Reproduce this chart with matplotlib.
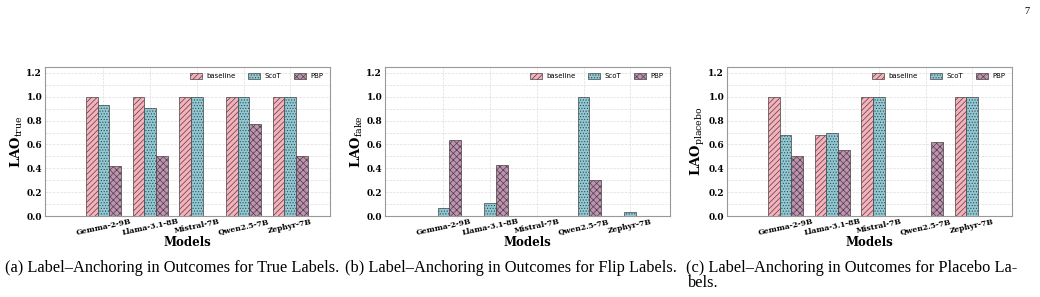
import numpy as np
import matplotlib
matplotlib.use("Agg")
import matplotlib.pyplot as plt
from matplotlib.ticker import MultipleLocator

# data
models = ["Gemma-2-9B", "Llama-3.1-8B", "Mistral-7B", "Qwen2.5-7B", "Zephyr-7B"]
methods = ["baseline", "ScoT", "PBP"]

true_baseline = [1.0, 1.0, 1.0, 1.0, 1.0]
true_scot = [0.93, 0.91, 1.0, 1.0, 1.0]
true_pbp = [0.42, 0.50, 0.0, 0.77, 0.50]

flip_baseline = [0.0, 0.0, 0.0, 0.0, 0.0]
flip_scot = [0.07, 0.11, 0.0, 1.0, 0.03]
flip_pbp = [0.64, 0.43, 0.0, 0.30, 0.0]

placebo_baseline = [1.0, 0.68, 1.0, 0.0, 1.0]
placebo_scot = [0.68, 0.70, 1.0, 0.0, 1.0]
placebo_pbp = [0.50, 0.55, 0.0, 0.625, 0.0]

ylabels = [r"$\mathbf{LAO}_{\mathrm{true}}$",
           r"$\mathbf{LAO}_{\mathrm{fake}}$",
           r"$\mathbf{LAO}_{\mathrm{placebo}}$"]
captions = ["(a) Label–Anchoring in Outcomes for True Labels.",
            "(b) Label–Anchoring in Outcomes for Flip Labels.",
            "(c) Label–Anchoring in Outcomes for Placebo La-"]

colors = ["#f8b0bb", "#8ecad6", "#c291b2"]
hatches = ["//////", "......", "xxxxx"]

plt.rcParams["hatch.linewidth"] = 0.5
plt.rcParams["mathtext.fontset"] = "dejavuserif"


def grouped_bars(ax, series, ylbl):
    x = np.arange(len(models))
    w = 0.25
    for k, vals in enumerate(series):
        ax.bar(
            x + (k - 1) * w,
            vals,
            width=w,
            color=colors[k],
            edgecolor="#444444",
            linewidth=0.5,
            hatch=hatches[k],
            label=methods[k],
            zorder=3,
        )
    ax.set_xlim(-1.25, 4.85)
    ax.set_ylim(0, 1.25)
    ax.yaxis.set_major_locator(MultipleLocator(0.2))
    ax.yaxis.set_minor_locator(MultipleLocator(0.1))
    ax.set_xticks(x)
    ax.set_xticklabels(models, rotation=12, fontsize=5.5, fontweight="bold",
                       family="DejaVu Serif")
    for t in ax.get_yticklabels():
        t.set_fontsize(6.5)
        t.set_fontweight("bold")
        t.set_family("DejaVu Serif")
    ax.tick_params(which="both", length=0, pad=2)
    ax.tick_params(axis="x", pad=1)
    ax.grid(True, which="both", axis="y", linestyle="--", color="#dddddd", linewidth=0.5, zorder=0)
    ax.grid(True, which="major", axis="x", linestyle="--", color="#dddddd", linewidth=0.5, zorder=0)
    for s in ax.spines.values():
        s.set_color("#999999")
        s.set_linewidth(0.8)
    ax.set_xlabel("Models", fontsize=8.5, fontweight="bold", family="DejaVu Serif", labelpad=-1)
    ax.set_ylabel(ylbl, fontsize=9.5, labelpad=1)
    ax.legend(loc="upper right", ncol=3, frameon=False, fontsize=5,
              handlelength=1.7, handleheight=0.8, handletextpad=0.7,
              columnspacing=1.8, borderaxespad=0.5)


fig = plt.figure(figsize=(10.4, 2.97), dpi=100)
lefts = [45, 385, 727]
data = [
    [true_baseline, true_scot, true_pbp],
    [flip_baseline, flip_scot, flip_pbp],
    [placebo_baseline, placebo_scot, placebo_pbp],
]
for i in range(3):
    ax = fig.add_axes([lefts[i] / 1040, 81 / 297, 285 / 1040, 149 / 297])
    grouped_bars(ax, data[i], ylabels[i])

cap_x = [5, 345, 686]
for i in range(3):
    fig.text(cap_x[i] / 1040, 1 - 268 / 297, captions[i], fontsize=11.8,
             family="Liberation Serif", va="center", ha="left")
fig.text(688 / 1040, 1 - 283 / 297, "bels.", fontsize=11.8,
         family="Liberation Serif", va="center", ha="left")
fig.text(1027 / 1040, 1 - 12 / 297, "7", fontsize=7.5,
         family="Liberation Serif", va="center", ha="center")

fig.savefig("out.png", dpi=100)
